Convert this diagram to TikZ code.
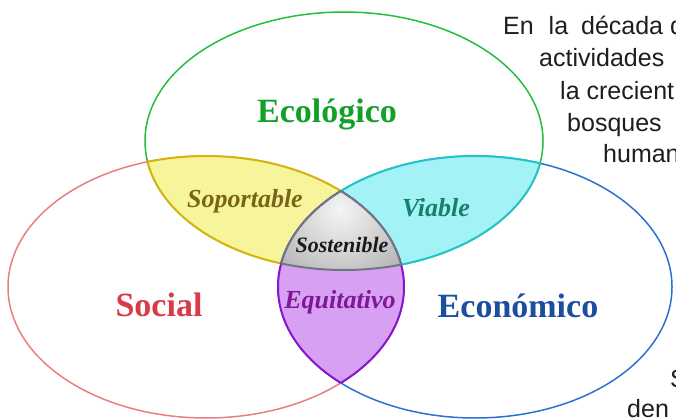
\documentclass[tikz,border=0pt]{standalone}
\usepackage{fontspec}
\setmainfont{Liberation Serif}
\newfontfamily\pagefont{Liberation Sans}

\definecolor{ecoline}{HTML}{22C03A}
\definecolor{socline}{HTML}{E88080}
\definecolor{monline}{HTML}{2A72D0}
\definecolor{supfill}{HTML}{F7F59C}
\definecolor{supline}{HTML}{D6B40A}
\definecolor{viafill}{HTML}{A2F2F6}
\definecolor{vialine}{HTML}{22C4C8}
\definecolor{equfill}{HTML}{D8A0F2}
\definecolor{equline}{HTML}{8A14CC}
\definecolor{sosline}{HTML}{6E7682}
\definecolor{ecotext}{HTML}{12A028}
\definecolor{soctext}{HTML}{D83A48}
\definecolor{montext}{HTML}{1C4E9E}
\definecolor{suptext}{HTML}{7A6418}
\definecolor{viatext}{HTML}{17806C}
\definecolor{sostext}{HTML}{1A1A1A}
\definecolor{equtext}{HTML}{7E1898}
\definecolor{pagetext}{HTML}{1E1E1E}

% the three ellipses
\newcommand{\ecopath}{(344,141) ellipse [x radius=199pt, y radius=129pt]}
\newcommand{\socpath}{(206,287) ellipse [x radius=198pt, y radius=131pt]}
\newcommand{\monpath}{(475,287) ellipse [x radius=197pt, y radius=131pt]}

\begin{document}
\begin{tikzpicture}[x=1pt,y=-1pt,
    ring/.style={line width=1.5pt},
    lens/.style={line width=2pt},
    title/.style={font=\fontsize{34}{34}\selectfont\bfseries, anchor=base},
    part/.style={font=\fontsize{26}{26}\selectfont\bfseries\itshape, anchor=base},
    page/.style={font=\pagefont\fontsize{25}{25}\selectfont, text=pagetext, anchor=base west, inner sep=0pt}]
    \clip (0,0) rectangle (676,419);

    \draw[ring, ecoline] \ecopath;
    \draw[ring, socline] \socpath;
    \draw[ring, monline] \monpath;

    % Soportable
    \begin{scope}
        \clip \ecopath;
        \fill[supfill] \socpath;
        \draw[lens, supline] \socpath;
    \end{scope}
    \begin{scope}
        \clip \socpath;
        \draw[lens, supline] \ecopath;
    \end{scope}

    % Viable
    \begin{scope}
        \clip \ecopath;
        \fill[viafill] \monpath;
        \draw[lens, vialine] \monpath;
    \end{scope}
    \begin{scope}
        \clip \monpath;
        \draw[lens, vialine] \ecopath;
    \end{scope}

    % Equitativo
    \begin{scope}
        \clip \socpath;
        \fill[equfill] \monpath;
        \draw[lens, equline] \monpath;
    \end{scope}
    \begin{scope}
        \clip \monpath;
        \draw[lens, equline] \socpath;
    \end{scope}

    % Sostenible
    \begin{scope}
        \clip \ecopath;
        \clip \socpath;
        \clip \monpath;
        \shade[inner color=white!96!black, outer color=black!32] (340,210) circle (90pt);
    \end{scope}
    \begin{scope}
        \clip \ecopath;
        \clip \socpath;
        \draw[lens, sosline] \monpath;
    \end{scope}
    \begin{scope}
        \clip \ecopath;
        \clip \monpath;
        \draw[lens, sosline] \socpath;
    \end{scope}
    \begin{scope}
        \clip \socpath;
        \clip \monpath;
        \draw[lens, sosline] \ecopath;
    \end{scope}

    \node[title, text=ecotext] (eco) at (327,123) {Ecológico};
    \node[title, text=soctext] (soc) at (159,316) {Social};
    \node[title, text=montext] (mon) at (518,317) {Económico};
    \node[part, text=suptext] (sup) at (245,208) {Soportable};
    \node[part, text=viatext] (via) at (436,217) {Viable};
    \node[part, text=equtext] (equ) at (340,308) {Equitativo};
    \node[part, text=sostext, font=\fontsize{22}{22}\selectfont\bfseries\itshape] (sos) at (342,252) {Sostenible};

    % text of the page behind
    \node[page] (p1) at (503,35) {En\hspace{8pt} la\hspace{6pt} década d};
    \node[page] (p2) at (539,67) {actividades};
    \node[page] (p3) at (560,100) {la crecient};
    \node[page] (p4) at (567,132) {bosques};
    \node[page] (p5) at (603,163) {human};
    \node[page] (p6) at (670,387) {S};
    \node[page] (p7) at (627,417) {den};
\end{tikzpicture}
\end{document}
